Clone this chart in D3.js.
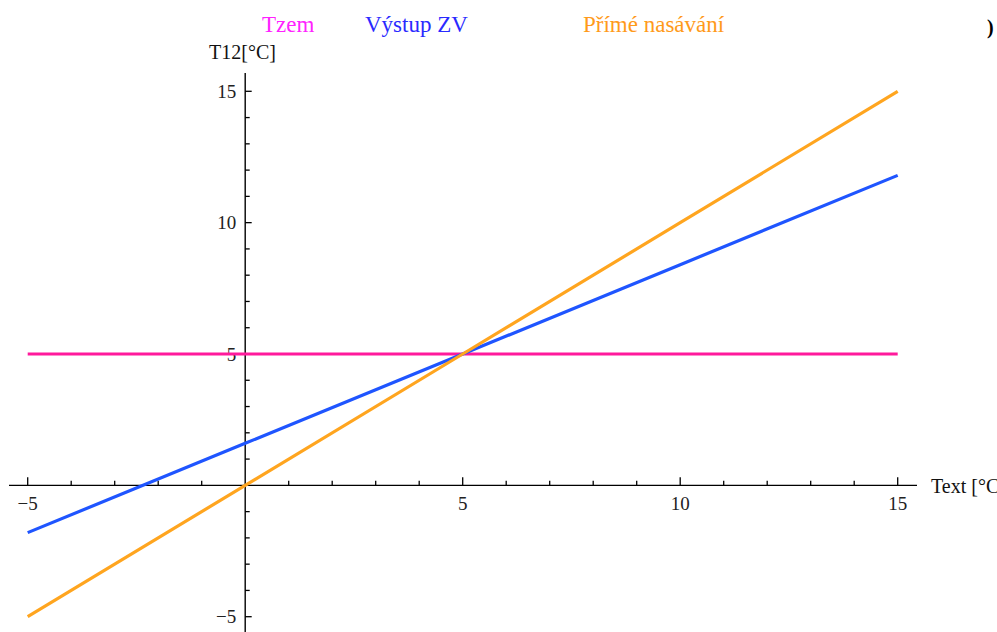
<!DOCTYPE html>
<html><head><meta charset="utf-8">
<script src="https://cdn.jsdelivr.net/npm/d3@7"></script>
<style>html,body{margin:0;padding:0;background:#fff;}svg{display:block;} text{font-family:"Liberation Serif","Times New Roman",serif;}</style>
</head><body>
<svg id="chart" width="997" height="632"></svg>
<script>
// Data
const xValues = [-5, 0, 5, 10, 15];
const tzem = [5, 5, 5, 5, 5];
const vystupZV = [-1.8, 1.6, 5, 8.4, 11.8];
const primeNasavani = [-5, 0, 5, 10, 15];
const seriesNames = ["Tzem", "Výstup ZV", "Přímé nasávání"];
const lineColors = ["#ff1a9c", "#1f55ff", "#ffa51f"];
const legendColors = ["#ff22ff", "#2a2aff", "#ff9a1a"];
const majorTicks = [-5, 5, 10, 15];
const minorTicks = d3.range(-5, 16, 1);
const xTitle = "Text [°C";
const yTitle = "T12[°C]";

const svg = d3.select("#chart");
const x = d3.scaleLinear().domain([-5, 15]).range([27.7, 897.7]);
const y = d3.scaleLinear().domain([-5, 15]).range([616.7, 91.3]);

// axes lines
svg.append("line").attr("x1", 9).attr("x2", 917).attr("y1", y(0)).attr("y2", y(0))
  .attr("stroke", "#000").attr("stroke-width", 1.4);
svg.append("line").attr("x1", x(0)).attr("x2", x(0)).attr("y1", 73).attr("y2", 632)
  .attr("stroke", "#000").attr("stroke-width", 1.4);

// x ticks (upwards)
svg.append("g").selectAll("line").data(minorTicks.filter(d => d !== 0)).join("line")
  .attr("x1", d => x(d)).attr("x2", d => x(d))
  .attr("y1", y(0)).attr("y2", d => y(0) - (d % 5 === 0 ? 8 : 4.5))
  .attr("stroke", "#000").attr("stroke-width", 1.3);
// y ticks (rightwards)
svg.append("g").selectAll("line").data(minorTicks.filter(d => d !== 0)).join("line")
  .attr("y1", d => y(d)).attr("y2", d => y(d))
  .attr("x1", x(0)).attr("x2", d => x(0) + (d % 5 === 0 ? 6.5 : 4.5))
  .attr("stroke", "#000").attr("stroke-width", 1.3);

const fmt = d => d < 0 ? "\u2212" + Math.abs(d) : String(d);
// x tick labels
svg.append("g").selectAll("text").data(majorTicks).join("text")
  .attr("x", d => x(d)).attr("y", 509.5).attr("text-anchor", "middle")
  .style("font-size", "19px").attr("fill", "#222")
  .text(fmt);
// y tick labels
svg.append("g").selectAll("text").data(majorTicks).join("text")
  .attr("x", x(0) - 9).attr("y", d => y(d)).attr("text-anchor", "end")
  .attr("dominant-baseline", "central")
  .style("font-size", "19px").attr("fill", "#222")
  .text(fmt);

// axis titles
svg.append("text").attr("x", 931).attr("y", 492.5)
  .style("font-size", "20px").attr("fill", "#111").text(xTitle);
svg.append("text").attr("x", 209).attr("y", 58.5)
  .style("font-size", "20px").attr("fill", "#111").text(yTitle);
svg.append("text").attr("x", 987).attr("y", 34)
  .style("font-size", "20px").style("font-weight", "bold").attr("fill", "#000").text(")");

// lines
const allSeries = [tzem, vystupZV, primeNasavani];
const line = d3.line().x((d, i) => x(xValues[i])).y(d => y(d));
svg.append("g").selectAll("path").data(allSeries).join("path")
  .attr("d", d => line(d)).attr("fill", "none")
  .attr("stroke", (d, i) => lineColors[i]).attr("stroke-width", 3.2);

// legend
const legendX = [262, 365, 583];
svg.append("g").selectAll("text").data(seriesNames).join("text")
  .attr("x", (d, i) => legendX[i]).attr("y", 31.5)
  .style("font-size", "23px")
  .attr("fill", (d, i) => legendColors[i]).text(d => d);
</script>
</body></html>
